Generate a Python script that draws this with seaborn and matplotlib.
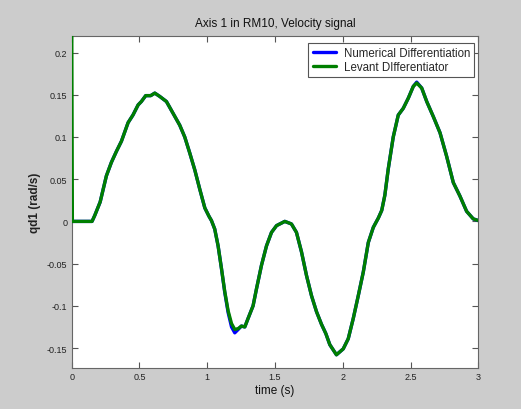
import matplotlib
matplotlib.use("Agg")
import matplotlib.pyplot as plt
import seaborn as sns
import pandas as pd

# time samples (s)
time = [0.0, 0.005, 0.05, 0.10, 0.15, 0.17, 0.21, 0.256, 0.293, 0.33, 0.367, 0.416, 0.452,
        0.49, 0.514, 0.546, 0.583, 0.613, 0.65, 0.699, 0.748, 0.797, 0.834, 0.871,
        0.908, 0.945, 0.982, 1.013, 1.031, 1.055, 1.08, 1.105, 1.129, 1.154, 1.179,
        1.203, 1.228, 1.252, 1.277, 1.301, 1.338, 1.363, 1.40, 1.437, 1.474, 1.511,
        1.572, 1.621, 1.658, 1.695, 1.732, 1.769, 1.806, 1.843, 1.875, 1.904, 1.953,
        2.003, 2.04, 2.077, 2.114, 2.151, 2.188, 2.225, 2.262, 2.287, 2.31, 2.335,
        2.372, 2.409, 2.446, 2.483, 2.52, 2.545, 2.582, 2.619, 2.668, 2.717, 2.766,
        2.815, 2.864, 2.913, 2.962, 3.0]

# Levant differentiator output (rad/s)
levant = [0.25, 0.0, 0.0, 0.0, 0.0, 0.007, 0.023, 0.054, 0.070, 0.083, 0.095, 0.117, 0.126,
          0.138, 0.142, 0.149, 0.149, 0.152, 0.148, 0.142, 0.128, 0.114, 0.100, 0.081,
          0.061, 0.038, 0.016, 0.006, 0.001, -0.009, -0.029, -0.056, -0.083, -0.106, -0.121,
          -0.128, -0.127, -0.124, -0.125, -0.115, -0.100, -0.080, -0.052, -0.029, -0.013, -0.005,
          0.0, -0.003, -0.013, -0.036, -0.064, -0.088, -0.107, -0.122, -0.133, -0.146, -0.158,
          -0.151, -0.139, -0.115, -0.088, -0.060, -0.025, -0.007, 0.004, 0.013, 0.031, 0.062,
          0.100, 0.126, 0.134, 0.146, 0.160, 0.164, 0.158, 0.142, 0.124, 0.105, 0.077,
          0.046, 0.030, 0.012, 0.003, 0.001]

# Numerical differentiation output (rad/s)
numerical = [0.003, 0.0, 0.0, 0.0, 0.0, 0.007, 0.023, 0.054, 0.070, 0.083, 0.095, 0.117, 0.126,
             0.138, 0.142, 0.149, 0.149, 0.152, 0.148, 0.142, 0.128, 0.114, 0.100, 0.081,
             0.061, 0.038, 0.016, 0.006, 0.001, -0.009, -0.029, -0.056, -0.084, -0.108, -0.125,
             -0.132, -0.128, -0.124, -0.125, -0.115, -0.100, -0.080, -0.052, -0.029, -0.013, -0.005,
             0.0, -0.003, -0.013, -0.036, -0.064, -0.088, -0.107, -0.122, -0.133, -0.146, -0.158,
             -0.151, -0.139, -0.115, -0.088, -0.060, -0.025, -0.007, 0.004, 0.013, 0.031, 0.062,
             0.100, 0.126, 0.134, 0.146, 0.160, 0.165, 0.158, 0.142, 0.124, 0.105, 0.077,
             0.046, 0.030, 0.012, 0.003, 0.001]

xticks = [0, 0.5, 1, 1.5, 2, 2.5, 3]
xticklabels = ["0", "0.5", "1", "1.5", "2", "2.5", "3"]
yticks = [-0.15, -0.1, -0.05, 0, 0.05, 0.1, 0.15, 0.2]
yticklabels = ["-0.15", "-0.1", "-0.05", "0", "0.05", "0.1", "0.15", "0.2"]

sns.set_style("white")
plt.rcParams["font.family"] = ["Liberation Sans", "DejaVu Sans"]

df = pd.DataFrame({"time": time, "numerical": numerical, "levant": levant})

fig = plt.figure(figsize=(5.21, 4.10), dpi=100, facecolor="#cccccc")
ax = fig.add_axes([0.1376, 0.0993, 0.7806, 0.8112])
ax.set_facecolor("white")

sns.lineplot(data=df, x="time", y="numerical", ax=ax, color="#0000ff", lw=2.4,
             label="Numerical Differentiation", estimator=None, sort=False)
sns.lineplot(data=df, x="time", y="levant", ax=ax, color="#007f00", lw=2.4,
             label="Levant DIfferentiator", estimator=None, sort=False)
for ln in ax.lines:
    ln.set_zorder(3)

ax.set_xlim(0, 3)
ax.set_ylim(-0.174, 0.22)
ax.set_xticks(xticks)
ax.set_xticklabels(xticklabels)
ax.set_yticks(yticks)
ax.set_yticklabels(yticklabels)
ax.tick_params(direction="in", length=4, width=0.8, color="#555555", labelsize=6.5,
               labelcolor="#222222", top=True, right=True, bottom=True, left=True, pad=3)
for s in ax.spines.values():
    s.set_color("#666666")
    s.set_linewidth(0.8)

ax.set_title("Axis 1 in RM10, Velocity signal", fontsize=8.5, pad=7, color="#111111")
ax.set_xlabel("time (s)", fontsize=8.5, color="#111111", labelpad=2)
ax.set_ylabel("qd1 (rad/s)", fontsize=8.5, fontweight="bold", color="#222222", labelpad=4)

leg = ax.legend(loc="upper right", bbox_to_anchor=(0.995, 0.985), fontsize=8.3,
                fancybox=False, framealpha=1, edgecolor="#555555", handlelength=2.0,
                borderpad=0.35, labelspacing=0.2, handletextpad=0.7, borderaxespad=0.2)
leg.get_frame().set_linewidth(0.8)
leg.set_zorder(5)

fig.savefig("out.png", dpi=100, facecolor=fig.get_facecolor())
